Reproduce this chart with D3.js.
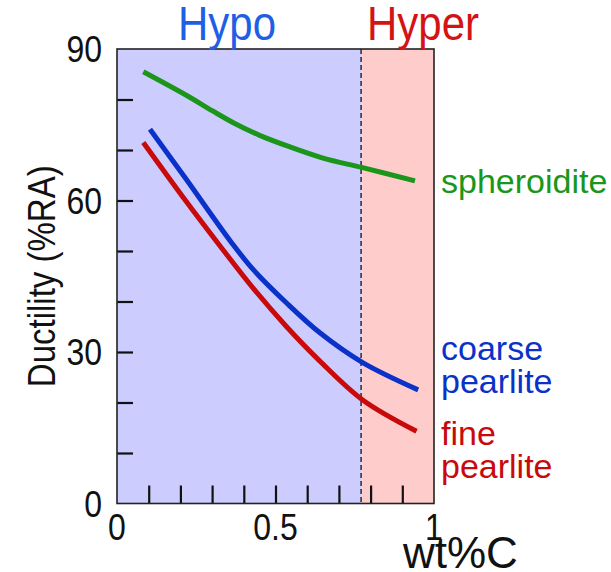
<!DOCTYPE html>
<html>
<head>
<meta charset="utf-8">
<script src="https://cdn.jsdelivr.net/npm/d3@7"></script>
<style>
  html, body { margin: 0; padding: 0; background: #fff; }
  svg text { font-family: "Liberation Sans", Arial, Helvetica, sans-serif; }
</style>
</head>
<body>
<svg id="chart" width="611" height="572"></svg>
<script>
// Ductility (%RA) of plain carbon steels versus carbon content
const spheroiditeC   = [0.083, 0.22, 0.30, 0.37, 0.45, 0.546, 0.65, 0.775, 0.94];
const spheroiditeRA  = [85.5, 80.8, 77.8, 75.3, 72.9, 70.6, 68.4, 66.5, 63.9];

const coarsePearliteC  = [0.104, 0.215, 0.362, 0.43, 0.535, 0.64, 0.775, 0.95];
const coarsePearliteRA = [74.1, 64.5, 51.6, 46.3, 39.7, 33.8, 27.9, 22.5];

const finePearliteC  = [0.083, 0.215, 0.33, 0.43, 0.535, 0.64, 0.775, 0.945];
const finePearliteRA = [71.5, 60.1, 50.6, 42.6, 35.0, 28.2, 20.5, 14.3];

const eutectoidC = 0.77;

const xTickValues = [0, 0.5, 1];
const xTickLabels = ["0", "0.5", "1"];
const xMinorTicks = [0.1, 0.2, 0.3, 0.4, 0.5, 0.6, 0.7, 0.8, 0.9];
const yTickValues = [0, 30, 60, 90];
const yMinorTicks = [10, 20, 30, 40, 50, 60, 70, 80];

const svg = d3.select("#chart");

const x = d3.scaleLinear().domain([0, 1]).range([117, 434]);
const y = d3.scaleLinear().domain([0, 90]).range([503.5, 49]);

// text drawn with a slightly tall (vertically stretched) face
function tallText(parent, px, py, str, opts) {
  const g = parent.append("g")
    .attr("transform", `translate(${px},${py})${opts.rotate ? ` rotate(${opts.rotate})` : ""} scale(1,${opts.sy || 1})`);
  return g.append("text")
    .attr("x", 0).attr("y", 0)
    .attr("text-anchor", opts.anchor || "start")
    .attr("font-size", opts.size)
    .attr("fill", opts.color || "#111")
    .text(str);
}

// region shading: hypoeutectoid (blue) and hypereutectoid (pink)
svg.append("rect")
  .attr("x", x(0)).attr("y", y(90))
  .attr("width", x(eutectoidC) - x(0)).attr("height", y(0) - y(90))
  .attr("fill", "#ccccff");
svg.append("rect")
  .attr("x", x(eutectoidC)).attr("y", y(90))
  .attr("width", x(1) - x(eutectoidC)).attr("height", y(0) - y(90))
  .attr("fill", "#ffcccc");

// inward ticks
svg.append("g")
  .attr("transform", `translate(0,${y(0)})`)
  .call(d3.axisTop(x).tickValues(xMinorTicks).tickSize(18).tickFormat(""))
  .call(g => g.select(".domain").remove())
  .call(g => g.selectAll("line").attr("stroke", "#111").attr("stroke-width", 2.2));
svg.append("g")
  .attr("transform", `translate(${x(0)},0)`)
  .call(d3.axisRight(y).tickValues(yMinorTicks).tickSize(16).tickFormat(""))
  .call(g => g.select(".domain").remove())
  .call(g => g.selectAll("line").attr("stroke", "#111").attr("stroke-width", 2.2));

// eutectoid composition marker
svg.append("line")
  .attr("x1", x(eutectoidC)).attr("x2", x(eutectoidC))
  .attr("y1", y(90)).attr("y2", y(0))
  .attr("stroke", "#222").attr("stroke-width", 1.4)
  .attr("stroke-dasharray", "5,3");

// frame
svg.append("rect")
  .attr("x", x(0)).attr("y", y(90))
  .attr("width", x(1) - x(0)).attr("height", y(0) - y(90))
  .attr("fill", "none").attr("stroke", "#222").attr("stroke-width", 1.6);

// curves
const line = d3.line()
  .x(d => x(d[0])).y(d => y(d[1]))
  .curve(d3.curveCatmullRom.alpha(0.5));

const series = [
  { c: spheroiditeC, ra: spheroiditeRA, color: "#1b961b" },
  { c: coarsePearliteC, ra: coarsePearliteRA, color: "#0a32c8" },
  { c: finePearliteC, ra: finePearliteRA, color: "#c80a0a" }
];
series.forEach(s => {
  svg.append("path")
    .datum(d3.zip(s.c, s.ra))
    .attr("d", line)
    .attr("fill", "none")
    .attr("stroke", s.color)
    .attr("stroke-width", 5);
});

// tick labels
yTickValues.forEach(v => {
  tallText(svg, x(0) - 15, y(v) + 13, String(v), { size: 32, sy: 1.17, anchor: "end" });
});
xTickValues.forEach((v, i) => {
  tallText(svg, x(v), 540, xTickLabels[i], { size: 32, sy: 1.17, anchor: "middle" });
});

// axis titles
tallText(svg, 55, (y(0) + y(90)) / 2, "Ductility (%RA)",
  { size: 33, sy: 1.15, rotate: -90, anchor: "middle" });
tallText(svg, 403, 568, "wt%C", { size: 44 });

// region titles
tallText(svg, 178, 40, "Hypo", { size: 42, sy: 1.13, color: "#1f5fe6" });
tallText(svg, 367, 40, "Hyper", { size: 42, sy: 1.13, color: "#d41414" });

// series labels
const labels = [
  { lines: ["spheroidite"], y0: 193, color: "#1b961b" },
  { lines: ["coarse", "pearlite"], y0: 360, color: "#0a32c8" },
  { lines: ["fine", "pearlite"], y0: 445, color: "#c80a0a" }
];
labels.forEach(l => {
  l.lines.forEach((s, i) => {
    tallText(svg, 441, l.y0 + i * 33, s, { size: 34, color: l.color });
  });
});
</script>
</body>
</html>
